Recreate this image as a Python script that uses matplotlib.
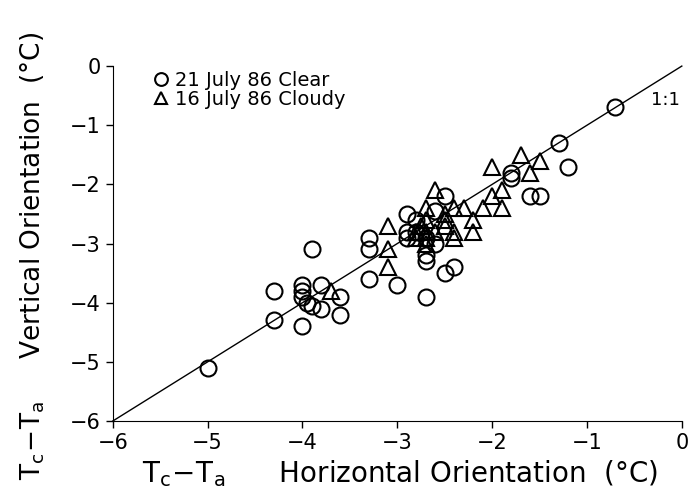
import matplotlib
matplotlib.use("Agg")
import matplotlib.pyplot as plt

clear_x = [-5.0, -4.3, -4.3, -4.0, -4.0, -4.0, -4.0, -3.95, -3.9, -3.9, -3.8, -3.8,
           -3.6, -3.6, -3.3, -3.3, -3.3, -3.0, -2.9, -2.9, -2.9, -2.8, -2.8, -2.7,
           -2.7, -2.7, -2.7, -2.6, -2.6, -2.5, -2.5, -2.4, -1.8, -1.8, -1.6, -1.5,
           -1.3, -1.2, -0.7]
clear_y = [-5.1, -4.3, -3.8, -4.4, -3.7, -3.8, -3.9, -4.0, -3.1, -4.05, -3.7, -4.1,
           -3.9, -4.2, -2.9, -3.1, -3.6, -3.7, -2.5, -2.8, -2.9, -2.6, -2.8, -2.9,
           -3.2, -3.3, -3.9, -2.45, -3.0, -2.2, -3.5, -3.4, -1.8, -1.9, -2.2, -2.2,
           -1.3, -1.7, -0.7]

cloudy_x = [-3.7, -3.1, -3.1, -3.1, -2.8, -2.8, -2.75, -2.7, -2.7, -2.7, -2.7, -2.7,
            -2.6, -2.6, -2.5, -2.5, -2.5, -2.4, -2.4, -2.4, -2.3, -2.2, -2.2, -2.1,
            -2.0, -2.0, -1.9, -1.9, -1.7, -1.6, -1.5]
cloudy_y = [-3.8, -2.7, -3.1, -3.4, -2.8, -2.9, -2.7, -2.4, -2.6, -2.8, -2.9, -3.0,
            -2.1, -2.8, -2.5, -2.6, -2.7, -2.4, -2.8, -2.9, -2.4, -2.6, -2.8, -2.4,
            -1.7, -2.2, -2.1, -2.4, -1.5, -1.8, -1.6]

ticks = [-6, -5, -4, -3, -2, -1, 0]
tick_labels = ["\u22126", "\u22125", "\u22124", "\u22123", "\u22122", "\u22121", "0"]

fig = plt.figure(figsize=(6.88, 4.95), dpi=100)
ax = fig.add_axes([0.164, 0.1495, 0.827, 0.717])

ax.plot([-6, 0], [-6, 0], color="black", lw=1.0, clip_on=False, zorder=2)
ax.plot(clear_x, clear_y, linestyle="none", marker="o", markersize=11.5,
        markerfacecolor="none", markeredgecolor="black", markeredgewidth=1.5,
        label="21 July 86 Clear", zorder=3)
ax.plot(cloudy_x, cloudy_y, linestyle="none", marker="^", markersize=11.5,
        markerfacecolor="none", markeredgecolor="black", markeredgewidth=1.5,
        label="16 July 86 Cloudy", zorder=3)

ax.text(-0.33, -0.57, "1:1", fontsize=13, va="center", ha="left")

ax.set_xlim(-6, 0)
ax.set_ylim(-6, 0)
ax.set_xticks(ticks)
ax.set_xticklabels(tick_labels, fontsize=15)
ax.set_yticks(ticks)
ax.set_yticklabels(tick_labels, fontsize=15)
ax.tick_params(direction="out", length=5, width=1)
for s in ["top", "right"]:
    ax.spines[s].set_visible(False)

ax.set_xlabel(r"$\mathregular{T_c\!-\!T_a}$      Horizontal Orientation  (°C)", fontsize=20)
ax.xaxis.set_label_coords(0.505, -0.105)
ax.set_ylabel(r"$\mathregular{T_c\!-\!T_a}$     Vertical Orientation  (°C)", fontsize=19)
ax.yaxis.set_label_coords(-0.115, 0.465)

leg = ax.legend(loc="upper left", bbox_to_anchor=(0.045, 1.025), frameon=False,
                fontsize=14, handletextpad=0.3, labelspacing=0.0, borderpad=0.2,
                markerscale=0.8, handlelength=0.9)

fig.savefig("out.png", dpi=100)
